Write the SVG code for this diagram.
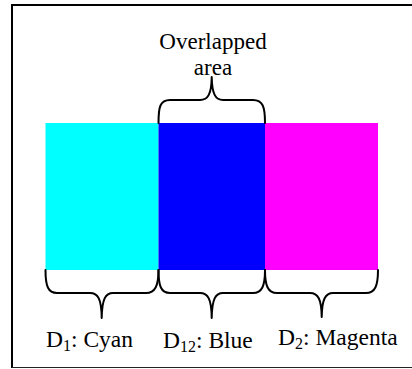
<svg xmlns="http://www.w3.org/2000/svg" width="412" height="369" viewBox="0 0 412 369">
  <style>
    .frame { fill: none; stroke: #000; stroke-width: 2; }
    .brace { fill: none; stroke: #000; stroke-width: 2; stroke-linejoin: round; stroke-linecap: round; }
    .title { font-family: "Liberation Serif", "Times New Roman", serif; font-size: 23px; fill: #000; text-anchor: middle; }
    .label { font-family: "Liberation Serif", "DejaVu Serif", serif; font-size: 23.5px; fill: #000; }
    .sub { font-size: 16px; }
  </style>

  <!-- frame -->
  <g id="frame">
    <path class="frame" d="M12,368 L12,5 L412,5"/>
    <line x1="12" y1="367.5" x2="412" y2="367.5" stroke="#222" stroke-width="1.2"/>
  </g>

  <!-- coloured regions -->
  <g id="cyan"><rect x="45.5" y="123" width="113" height="147" fill="#00ffff"/></g>
  <g id="blue"><rect x="158.5" y="123" width="106.5" height="147" fill="#0000ff"/></g>
  <g id="magenta"><rect x="265" y="123" width="113" height="147" fill="#ff00ff"/></g>

  <!-- braces -->
  <g id="braces">
    <path class="brace" d="M158.5,123 C158.5,107 160,100 170,100 L200,100 C208,100 211.5,94 211.7,77 C212,94 215.5,100 223,100 L253,100 C263,100 265,107 265,123"/>
    <path class="brace" d="M45.5,270 C45.5,286 48,293 57,293 L90,293 C98,293 101.5,299 101.7,318 C102,299 105.5,293 113,293 L146,293 C155,293 158.5,286 158.5,270"/>
    <path class="brace" d="M158.5,270 C158.5,286 161,293 170,293 L200,293 C208,293 211.5,299 211.7,318 C212,299 215.5,293 223,293 L253,293 C262,293 265,286 265,270"/>
    <path class="brace" d="M265,270 C265,286 268,293 277,293 L310,293 C318,293 321.5,299 321.7,317 C322,299 325.5,293 333,293 L366,293 C375,293 378,286 378,270"/>
  </g>

  <!-- labels -->
  <g id="overlap-label">
    <text class="title" x="213" y="49">Overlapped</text>
    <text class="title" x="213" y="75">area</text>
  </g>
  <g id="d1-label"><text class="label" x="46" y="347">D<tspan class="sub" dy="4">1</tspan><tspan dy="-4">: Cyan</tspan></text></g>
  <g id="d12-label"><text class="label" x="163" y="348">D<tspan class="sub" dy="4">12</tspan><tspan dy="-4">: Blue</tspan></text></g>
  <g id="d2-label"><text class="label" x="278" y="345">D<tspan class="sub" dy="4">2</tspan><tspan dy="-4">: Magenta</tspan></text></g>
</svg>
